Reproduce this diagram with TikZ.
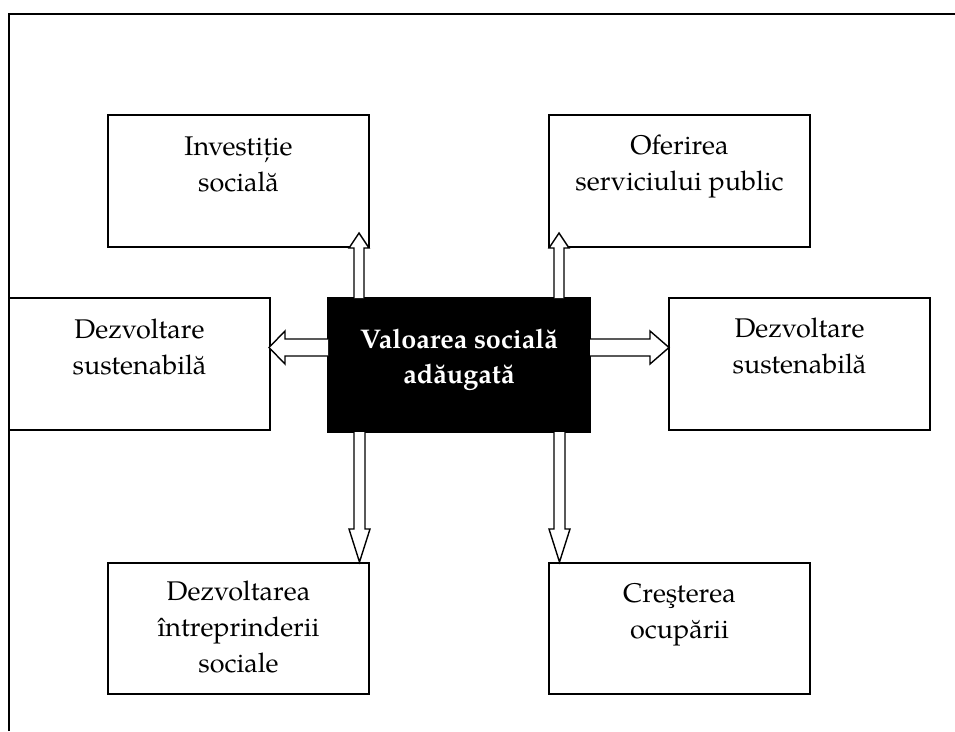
\documentclass[tikz,border=0pt]{standalone}
\usepackage{fontspec}
\setmainfont{TeX Gyre Pagella}
\usetikzlibrary{calc}
\newcommand\bt[3]{\parbox[c][#1][t]{250pt}{\centering\rule{0pt}{#2}#3}}
\newcommand\blockarr[5]{%
  \coordinate (hb) at ($(#2)!#5!(#1)$);
  \path[arrowline] ($(#1)!#3!90:(#2)$) -- ($(hb)!#3!90:(#2)$) -- ($(hb)!#4!90:(#2)$) -- (#2) -- ($(hb)!#4!-90:(#2)$) -- ($(hb)!#3!-90:(#2)$) -- ($(#1)!#3!-90:(#2)$);
}
\begin{document}
\begin{tikzpicture}[x=1pt,y=-1pt,
  box/.style={draw, line width=1.6pt, inner sep=0pt, outer sep=0pt, minimum width=261pt, minimum height=132pt, fill=white, font=\fontsize{27}{36}\selectfont},
  core/.style={box, fill=black, text=white, font=\fontsize{27}{35}\selectfont\bfseries, minimum width=262pt, minimum height=134pt},
  arrowline/.style={draw, fill=white, line width=1.4pt, line join=miter},
  frameline/.style={line width=1.8pt}]
\useasboundingbox (0,0) rectangle (955,731);
\draw[frameline] (9,731) -- (9,14) -- (955,14);
\node[box] (inv) at (238.5,181) {\bt{132pt}{40pt}{Investiție\\socială}};
\node[box] (ofe) at (679.5,181) {\bt{132pt}{39pt}{Oferirea\\serviciului public}};
\node[box] (dl) at (139.5,364) {\bt{132pt}{40pt}{Dezvoltare\\sustenabilă}};
\node[box] (dr) at (799.5,364) {\bt{132pt}{39pt}{Dezvoltare\\sustenabilă}};
\node[box, minimum height=131pt] (bl) at (238.5,628.5) {\bt{131pt}{37pt}{Dezvoltarea\\întreprinderii\\sociale}};
\node[box, minimum height=131pt] (br) at (679.5,628.5) {\bt{131pt}{39pt}{Creşterea\\ocupării}};
\node[core] (c) at (459,365) {\bt{134pt}{50pt}{Valoarea socială\\adăugată}};
% up arrows
\coordinate (ua1) at ($(c.north west)+(31,0)$);
\coordinate (ub1) at ($(ua1 |- inv.south)+(0,-14)$);
\blockarr{ua1}{ub1}{5pt}{10pt}{15pt}
\coordinate (ua2) at ($(c.north east)+(-31,0)$);
\coordinate (ub2) at ($(ua2 |- ofe.south)+(0,-14)$);
\blockarr{ua2}{ub2}{5pt}{10pt}{15pt}
% down arrows
\coordinate (da1) at ($(c.south west)+(31.5,0)$);
\coordinate (db1) at ($(da1 |- bl.north)+(0,-1)$);
\blockarr{da1}{db1}{5.5pt}{10.5pt}{33pt}
\coordinate (da2) at ($(c.south east)+(-30.5,0)$);
\coordinate (db2) at ($(da2 |- br.north)+(0,-1)$);
\blockarr{da2}{db2}{5.5pt}{10.5pt}{33pt}
% side arrows
\coordinate (la) at ($(c.west)+(0,-17.5)$);
\coordinate (lb) at ($(la -| dl.east)+(-1,0)$);
\blockarr{la}{lb}{8.5pt}{16.5pt}{16pt}
\coordinate (ra) at ($(c.east)+(0,-17.5)$);
\coordinate (rb) at (ra -| dr.west);
\blockarr{ra}{rb}{8.5pt}{16.5pt}{19pt}
\end{tikzpicture}
\end{document}
